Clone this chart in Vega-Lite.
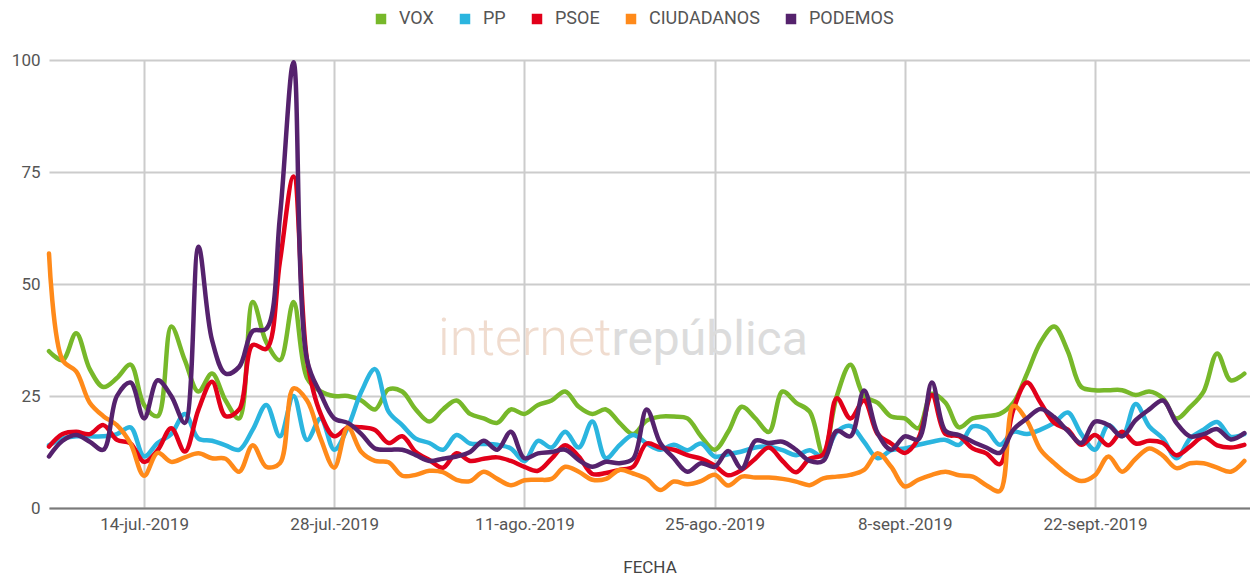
{
  "$schema": "https://vega.github.io/schema/vega-lite/v6.json",
  "width": 1201,
  "height": 448,
  "autosize": {"type": "none"},
  "padding": {"left": 49, "top": 60, "right": 0, "bottom": 67},
  "background": "white",
  "config": {"view": {"stroke": null}, "font": "Roboto"},
  "datasets": {
    "serie": [
      {"fecha": "2019/07/07", "VOX": 35, "PP": 14, "PSOE": 13.7, "CIUDADANOS": 56.8, "PODEMOS": 11.5},
      {"fecha": "2019/07/08", "VOX": 33, "PP": 15.5, "PSOE": 16.5, "CIUDADANOS": 33, "PODEMOS": 15},
      {"fecha": "2019/07/09", "VOX": 39, "PP": 16, "PSOE": 17, "CIUDADANOS": 30.5, "PODEMOS": 16.3},
      {"fecha": "2019/07/10", "VOX": 31, "PP": 16, "PSOE": 16.5, "CIUDADANOS": 23.5, "PODEMOS": 14.8},
      {"fecha": "2019/07/11", "VOX": 27, "PP": 16, "PSOE": 18.5, "CIUDADANOS": 20.5, "PODEMOS": 13},
      {"fecha": "2019/07/12", "VOX": 29, "PP": 16.5, "PSOE": 15.2, "CIUDADANOS": 18.5, "PODEMOS": 25},
      {"fecha": "2019/07/13", "VOX": 32, "PP": 18, "PSOE": 14.4, "CIUDADANOS": 14.4, "PODEMOS": 28},
      {"fecha": "2019/07/14", "VOX": 23, "PP": 11.5, "PSOE": 10.3, "CIUDADANOS": 7.2, "PODEMOS": 20},
      {"fecha": "2019/07/15", "VOX": 20.5, "PP": 14.5, "PSOE": 12.9, "CIUDADANOS": 12.3, "PODEMOS": 28.5},
      {"fecha": "2019/07/16", "VOX": 40.5, "PP": 16.5, "PSOE": 17.8, "CIUDADANOS": 10.3, "PODEMOS": 25},
      {"fecha": "2019/07/17", "VOX": 33, "PP": 21, "PSOE": 12.6, "CIUDADANOS": 11.3, "PODEMOS": 19},
      {"fecha": "2019/07/18", "VOX": 26, "PP": 15.5, "PSOE": 21.9, "CIUDADANOS": 12.2, "PODEMOS": 58.3},
      {"fecha": "2019/07/19", "VOX": 30, "PP": 15, "PSOE": 28.2, "CIUDADANOS": 11.1, "PODEMOS": 37.5},
      {"fecha": "2019/07/20", "VOX": 24, "PP": 14, "PSOE": 20.5, "CIUDADANOS": 11, "PODEMOS": 30},
      {"fecha": "2019/07/21", "VOX": 20, "PP": 13, "PSOE": 22, "CIUDADANOS": 8.1, "PODEMOS": 31.5},
      {"fecha": "2019/07/22", "VOX": 46, "PP": 17.5, "PSOE": 36.4, "CIUDADANOS": 14, "PODEMOS": 39.5},
      {"fecha": "2019/07/23", "VOX": 37, "PP": 23, "PSOE": 35.5, "CIUDADANOS": 9.2, "PODEMOS": 40},
      {"fecha": "2019/07/24", "VOX": 33, "PP": 16, "PSOE": 55, "CIUDADANOS": 10, "PODEMOS": 65},
      {"fecha": "2019/07/25", "VOX": 46, "PP": 25, "PSOE": 74, "CIUDADANOS": 26.7, "PODEMOS": 99.5},
      {"fecha": "2019/07/26", "VOX": 29, "PP": 15.2, "PSOE": 33, "CIUDADANOS": 24, "PODEMOS": 33},
      {"fecha": "2019/07/27", "VOX": 26, "PP": 20, "PSOE": 21, "CIUDADANOS": 15.5, "PODEMOS": 25.5},
      {"fecha": "2019/07/28", "VOX": 25, "PP": 13, "PSOE": 16, "CIUDADANOS": 9, "PODEMOS": 20},
      {"fecha": "2019/07/29", "VOX": 25, "PP": 18, "PSOE": 18, "CIUDADANOS": 18, "PODEMOS": 19},
      {"fecha": "2019/07/30", "VOX": 24, "PP": 26, "PSOE": 18, "CIUDADANOS": 12.5, "PODEMOS": 16.5},
      {"fecha": "2019/07/31", "VOX": 22, "PP": 31, "PSOE": 17.4, "CIUDADANOS": 10.5, "PODEMOS": 13.3},
      {"fecha": "2019/08/01", "VOX": 26.5, "PP": 21.5, "PSOE": 14.5, "CIUDADANOS": 10.2, "PODEMOS": 13},
      {"fecha": "2019/08/02", "VOX": 26, "PP": 18.5, "PSOE": 16, "CIUDADANOS": 7.2, "PODEMOS": 13},
      {"fecha": "2019/08/03", "VOX": 22, "PP": 15.5, "PSOE": 12.5, "CIUDADANOS": 7.4, "PODEMOS": 11.8},
      {"fecha": "2019/08/04", "VOX": 19.3, "PP": 14.5, "PSOE": 10.7, "CIUDADANOS": 8.3, "PODEMOS": 10.5},
      {"fecha": "2019/08/05", "VOX": 22, "PP": 13, "PSOE": 9, "CIUDADANOS": 8, "PODEMOS": 11},
      {"fecha": "2019/08/06", "VOX": 24, "PP": 16.3, "PSOE": 12.2, "CIUDADANOS": 6.3, "PODEMOS": 11.5},
      {"fecha": "2019/08/07", "VOX": 21, "PP": 14.4, "PSOE": 10.5, "CIUDADANOS": 6, "PODEMOS": 12.5},
      {"fecha": "2019/08/08", "VOX": 20, "PP": 14.3, "PSOE": 11, "CIUDADANOS": 8.1, "PODEMOS": 15},
      {"fecha": "2019/08/09", "VOX": 19, "PP": 14.1, "PSOE": 11.3, "CIUDADANOS": 6.5, "PODEMOS": 13},
      {"fecha": "2019/08/10", "VOX": 22, "PP": 13.3, "PSOE": 10.5, "CIUDADANOS": 5.1, "PODEMOS": 17},
      {"fecha": "2019/08/11", "VOX": 21, "PP": 10.5, "PSOE": 9.2, "CIUDADANOS": 6.2, "PODEMOS": 11.1},
      {"fecha": "2019/08/12", "VOX": 23, "PP": 15, "PSOE": 8.3, "CIUDADANOS": 6.3, "PODEMOS": 12.2},
      {"fecha": "2019/08/13", "VOX": 24, "PP": 13.5, "PSOE": 11, "CIUDADANOS": 6.5, "PODEMOS": 12.5},
      {"fecha": "2019/08/14", "VOX": 26, "PP": 17, "PSOE": 14, "CIUDADANOS": 9.2, "PODEMOS": 13},
      {"fecha": "2019/08/15", "VOX": 22.6, "PP": 13.5, "PSOE": 11.5, "CIUDADANOS": 8.1, "PODEMOS": 10.7},
      {"fecha": "2019/08/16", "VOX": 21, "PP": 19.3, "PSOE": 7.6, "CIUDADANOS": 6.3, "PODEMOS": 9.2},
      {"fecha": "2019/08/17", "VOX": 22, "PP": 11.1, "PSOE": 7.8, "CIUDADANOS": 6.5, "PODEMOS": 10.3},
      {"fecha": "2019/08/18", "VOX": 19, "PP": 14, "PSOE": 8.5, "CIUDADANOS": 8.5, "PODEMOS": 10},
      {"fecha": "2019/08/19", "VOX": 16.5, "PP": 16.3, "PSOE": 9.2, "CIUDADANOS": 7.7, "PODEMOS": 11},
      {"fecha": "2019/08/20", "VOX": 19.5, "PP": 14.4, "PSOE": 14.4, "CIUDADANOS": 6.5, "PODEMOS": 22},
      {"fecha": "2019/08/21", "VOX": 20.4, "PP": 13, "PSOE": 13.5, "CIUDADANOS": 4, "PODEMOS": 14.5},
      {"fecha": "2019/08/22", "VOX": 20.4, "PP": 14.1, "PSOE": 13, "CIUDADANOS": 5.9, "PODEMOS": 11.1},
      {"fecha": "2019/08/23", "VOX": 20, "PP": 12.9, "PSOE": 11.8, "CIUDADANOS": 5.3, "PODEMOS": 8.1},
      {"fecha": "2019/08/24", "VOX": 16, "PP": 14.4, "PSOE": 11, "CIUDADANOS": 6, "PODEMOS": 10},
      {"fecha": "2019/08/25", "VOX": 13, "PP": 11.5, "PSOE": 9.5, "CIUDADANOS": 7.4, "PODEMOS": 9.2},
      {"fecha": "2019/08/26", "VOX": 17, "PP": 12, "PSOE": 7.3, "CIUDADANOS": 5, "PODEMOS": 12.7},
      {"fecha": "2019/08/27", "VOX": 22.6, "PP": 12.6, "PSOE": 8.5, "CIUDADANOS": 7, "PODEMOS": 8.8},
      {"fecha": "2019/08/28", "VOX": 20, "PP": 13.5, "PSOE": 11, "CIUDADANOS": 6.8, "PODEMOS": 15},
      {"fecha": "2019/08/29", "VOX": 17, "PP": 13.7, "PSOE": 13.5, "CIUDADANOS": 6.8, "PODEMOS": 14.5},
      {"fecha": "2019/08/30", "VOX": 26, "PP": 12.9, "PSOE": 10.5, "CIUDADANOS": 6.5, "PODEMOS": 14.8},
      {"fecha": "2019/08/31", "VOX": 23.5, "PP": 11.8, "PSOE": 8, "CIUDADANOS": 5.9, "PODEMOS": 13},
      {"fecha": "2019/09/01", "VOX": 21.5, "PP": 12.9, "PSOE": 11, "CIUDADANOS": 5.1, "PODEMOS": 10.5},
      {"fecha": "2019/09/02", "VOX": 12, "PP": 11.5, "PSOE": 12, "CIUDADANOS": 6.6, "PODEMOS": 10.5},
      {"fecha": "2019/09/03", "VOX": 25, "PP": 17, "PSOE": 24.5, "CIUDADANOS": 7, "PODEMOS": 17.2},
      {"fecha": "2019/09/04", "VOX": 32, "PP": 18.3, "PSOE": 20, "CIUDADANOS": 7.4, "PODEMOS": 16},
      {"fecha": "2019/09/05", "VOX": 25, "PP": 14.8, "PSOE": 24, "CIUDADANOS": 8.5, "PODEMOS": 26.2},
      {"fecha": "2019/09/06", "VOX": 23.5, "PP": 11.1, "PSOE": 16.5, "CIUDADANOS": 12.2, "PODEMOS": 16.7},
      {"fecha": "2019/09/07", "VOX": 20.4, "PP": 12.9, "PSOE": 14.4, "CIUDADANOS": 9.2, "PODEMOS": 13},
      {"fecha": "2019/09/08", "VOX": 20, "PP": 13.3, "PSOE": 12.3, "CIUDADANOS": 4.8, "PODEMOS": 16},
      {"fecha": "2019/09/09", "VOX": 17.8, "PP": 14.1, "PSOE": 15.5, "CIUDADANOS": 6.3, "PODEMOS": 15.3},
      {"fecha": "2019/09/10", "VOX": 25.5, "PP": 14.8, "PSOE": 25.2, "CIUDADANOS": 7.4, "PODEMOS": 28},
      {"fecha": "2019/09/11", "VOX": 23.5, "PP": 15.2, "PSOE": 16.5, "CIUDADANOS": 8.1, "PODEMOS": 17.2},
      {"fecha": "2019/09/12", "VOX": 18, "PP": 14.1, "PSOE": 16, "CIUDADANOS": 7.3, "PODEMOS": 16.3},
      {"fecha": "2019/09/13", "VOX": 20, "PP": 18.2, "PSOE": 13.3, "CIUDADANOS": 7, "PODEMOS": 14.8},
      {"fecha": "2019/09/14", "VOX": 20.5, "PP": 17.5, "PSOE": 12.2, "CIUDADANOS": 5.1, "PODEMOS": 13.5},
      {"fecha": "2019/09/15", "VOX": 21, "PP": 14.1, "PSOE": 9.8, "CIUDADANOS": 3.8, "PODEMOS": 12.3},
      {"fecha": "2019/09/16", "VOX": 23.5, "PP": 17, "PSOE": 22, "CIUDADANOS": 22.8, "PODEMOS": 17.5},
      {"fecha": "2019/09/17", "VOX": 30, "PP": 16.5, "PSOE": 28, "CIUDADANOS": 19.5, "PODEMOS": 20},
      {"fecha": "2019/09/18", "VOX": 37, "PP": 17.5, "PSOE": 23.5, "CIUDADANOS": 13, "PODEMOS": 22.1},
      {"fecha": "2019/09/19", "VOX": 40.5, "PP": 19, "PSOE": 19, "CIUDADANOS": 10, "PODEMOS": 20.3},
      {"fecha": "2019/09/20", "VOX": 35, "PP": 21.3, "PSOE": 17.5, "CIUDADANOS": 7.5, "PODEMOS": 17.2},
      {"fecha": "2019/09/21", "VOX": 27, "PP": 16.5, "PSOE": 14.1, "CIUDADANOS": 6, "PODEMOS": 14.5},
      {"fecha": "2019/09/22", "VOX": 26.3, "PP": 13, "PSOE": 16.3, "CIUDADANOS": 7.3, "PODEMOS": 19.3},
      {"fecha": "2019/09/23", "VOX": 26.3, "PP": 18.5, "PSOE": 14, "CIUDADANOS": 11.5, "PODEMOS": 18.5},
      {"fecha": "2019/09/24", "VOX": 26.3, "PP": 16, "PSOE": 17, "CIUDADANOS": 8.1, "PODEMOS": 16},
      {"fecha": "2019/09/25", "VOX": 25.2, "PP": 23.2, "PSOE": 14.4, "CIUDADANOS": 11, "PODEMOS": 19.6},
      {"fecha": "2019/09/26", "VOX": 26, "PP": 18.2, "PSOE": 15, "CIUDADANOS": 13.3, "PODEMOS": 22},
      {"fecha": "2019/09/27", "VOX": 24.5, "PP": 15.5, "PSOE": 14.5, "CIUDADANOS": 11.7, "PODEMOS": 24},
      {"fecha": "2019/09/28", "VOX": 20, "PP": 11.1, "PSOE": 11.8, "CIUDADANOS": 8.9, "PODEMOS": 19},
      {"fecha": "2019/09/29", "VOX": 22.5, "PP": 15.5, "PSOE": 13.7, "CIUDADANOS": 10, "PODEMOS": 16},
      {"fecha": "2019/09/30", "VOX": 26, "PP": 17.5, "PSOE": 15.9, "CIUDADANOS": 10, "PODEMOS": 16.5},
      {"fecha": "2019/10/01", "VOX": 34.5, "PP": 19.2, "PSOE": 14, "CIUDADANOS": 9, "PODEMOS": 17.6},
      {"fecha": "2019/10/02", "VOX": 28.5, "PP": 15.9, "PSOE": 13.5, "CIUDADANOS": 8.1, "PODEMOS": 15.3},
      {"fecha": "2019/10/03", "VOX": 30, "PP": 16.5, "PSOE": 14.1, "CIUDADANOS": 10.5, "PODEMOS": 16.7}
    ]
  },
  "layer": [
    {
      "data": {"values": [{}]},
      "mark": {"type": "text", "text": "internet", "align": "right", "baseline": "alphabetic", "fontSize": 52, "font": "Roboto", "fontWeight": 300, "color": "#f0dccf"},
      "encoding": {
        "x": {"datum": {"year": 2019, "month": 8, "date": 17, "hours": 10}, "type": "temporal", "title": "FECHA"},
        "y": {"datum": 34.2, "type": "quantitative", "title": null}
      }
    },
    {
      "data": {"values": [{}]},
      "mark": {"type": "text", "text": "república", "align": "left", "baseline": "alphabetic", "fontSize": 48, "font": "Roboto", "fontWeight": 400, "color": "#dcdcdc"},
      "encoding": {
        "x": {"datum": {"year": 2019, "month": 8, "date": 17, "hours": 10}, "type": "temporal", "title": "FECHA"},
        "y": {"datum": 34.2, "type": "quantitative", "title": null}
      }
    },
    {
      "data": {"name": "serie"},
      "transform": [{"fold": ["VOX", "PP", "PSOE", "CIUDADANOS", "PODEMOS"], "as": ["partido", "valor"]}],
      "mark": {"type": "line", "interpolate": "catmull-rom", "strokeWidth": 4.5, "strokeCap": "round", "strokeJoin": "round"},
      "encoding": {
        "x": {
          "field": "fecha",
          "type": "temporal",
          "title": "FECHA",
          "scale": {"domain": [{"year": 2019, "month": 7, "date": 7}, {"year": 2019, "month": 10, "date": 3, "hours": 10}]},
          "axis": {
            "values": [
              {"year": 2019, "month": 7, "date": 14},
              {"year": 2019, "month": 7, "date": 28},
              {"year": 2019, "month": 8, "date": 11},
              {"year": 2019, "month": 8, "date": 25},
              {"year": 2019, "month": 9, "date": 8},
              {"year": 2019, "month": 9, "date": 22}
            ],
            "labelExpr": "date(datum.value) + '-' + ['ene.','feb.','mar.','abr.','may.','jun.','jul.','ago.','sept.','oct.','nov.','dic.'][month(datum.value)] + '-' + year(datum.value)",
            "grid": true,
            "gridColor": "#cccccc",
            "gridWidth": 2,
            "ticks": false,
            "domain": true,
            "domainColor": "#7a7a7a",
            "domainWidth": 2,
            "labelFont": "Roboto",
            "labelFontSize": 17,
            "labelColor": "#555555",
            "labelPadding": 8,
            "titleFont": "Roboto",
            "titleFontSize": 17,
            "titleFontWeight": "normal",
            "titleColor": "#444444",
            "titlePadding": 27
          }
        },
        "y": {
          "field": "valor",
          "type": "quantitative",
          "title": null,
          "scale": {"domain": [0, 100], "nice": false},
          "axis": {
            "values": [0, 25, 50, 75, 100],
            "grid": true,
            "gridColor": "#cccccc",
            "gridWidth": 2,
            "domain": false,
            "ticks": false,
            "labelFont": "Roboto",
            "labelFontSize": 17,
            "labelColor": "#555555",
            "labelPadding": 9
          }
        },
        "color": {
          "field": "partido",
          "type": "nominal",
          "scale": {
            "domain": ["VOX", "PP", "PSOE", "CIUDADANOS", "PODEMOS"],
            "range": ["#77b82a", "#2bb5df", "#e2001a", "#ff8a1a", "#55226d"]
          },
          "legend": {
            "orient": "none",
            "legendX": 323,
            "legendY": -50,
            "direction": "horizontal",
            "title": null,
            "padding": 0,
            "symbolType": "square",
            "symbolSize": 110,
            "symbolStrokeWidth": 0,
            "labelFont": "Roboto",
            "labelFontSize": 18,
            "labelColor": "#555555",
            "labelOffset": 9,
            "columnPadding": 22,
            "encode": {
              "symbols": {"update": {"fill": {"scale": "color", "field": "value"}, "fillOpacity": {"value": 1}, "strokeWidth": {"value": 0}}}
            }
          }
        }
      }
    }
  ]
}
